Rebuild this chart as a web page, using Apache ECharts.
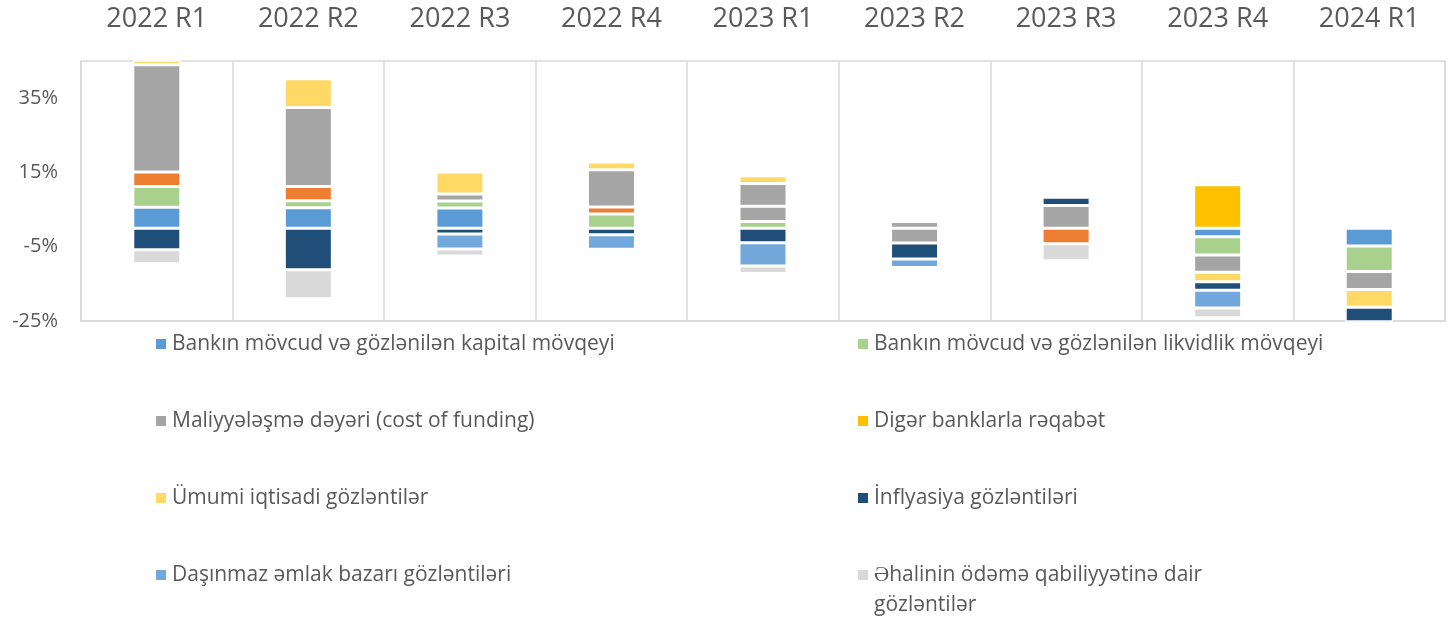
<!DOCTYPE html>
<html>
<head>
<meta charset="utf-8">
<script src="https://cdn.jsdelivr.net/npm/echarts@6/dist/echarts.min.js"></script>
<style>
    html, body {margin: 0; padding: 0; background: #fff;}
    #main {width: 1452px; height: 617px;}
</style>
</head>
<body>
<div id="main"></div>
<script>
var categories = ['2022 R1', '2022 R2', '2022 R3', '2022 R4', '2023 R1', '2023 R2', '2023 R3', '2023 R4', '2024 R1'];

// series values, %
var capital = [5.6, 5.5, 5.4, null, null, null, null, -2.3, -4.8];
var liquidity = [5.6, 1.9, 1.9, 3.8, 1.8, null, null, -4.9, -6.9];
var other = [3.9, 3.8, null, 1.9, 4.1, 1.8, -4.2, null, null];
var costOfFunding = [28.9, 21.3, 1.9, 10.0, 6.1, -4.0, 6.1, -4.7, -4.8];
var competition = [null, null, null, null, null, null, null, 11.7, null];
var economy = [1.5, 7.7, 5.9, 2.1, 2.1, null, null, -2.5, -4.8];
var inflation = [-5.8, -11.2, -1.6, -1.8, -3.9, -4.3, 2.2, -2.3, -5.5];
var realEstate = [null, null, -4.0, -3.9, -6.3, -2.3, null, -4.8, null];
var households = [-3.8, -7.8, -1.9, null, -2.0, null, -4.6, -2.6, null];

// in 2023 R1 and R2 the "other" segment is drawn grey
var otherGrey = ['2023 R1', '2023 R2'];

var yTicks = {min: -25, max: 45, interval: 20};

var names = {
    capital: 'Bankın mövcud və gözlənilən kapital mövqeyi',
    liquidity: 'Bankın mövcud və gözlənilən likvidlik mövqeyi',
    other: 'Digər',
    cost: 'Maliyyələşmə dəyəri (cost of funding)',
    competition: 'Digər banklarla rəqabət',
    economy: 'Ümumi iqtisadi gözləntilər',
    inflation: 'İnflyasiya gözləntiləri',
    realEstate: 'Daşınmaz əmlak bazarı gözləntiləri',
    households: 'Əhalinin ödəmə qabiliyyətinə dair gözləntilər'
};

var colors = {
    capital: '#5B9BD5',
    liquidity: '#A9D18E',
    other: '#ED7D31',
    cost: '#A5A5A5',
    competition: '#FFC000',
    economy: '#FFD966',
    inflation: '#1F4E79',
    realEstate: '#72A8DB',
    households: '#D9D9D9'
};

var textColor = '#595959',
    gridColor = '#D9D9D9',
    font = 'Open Sans';

function barSeries(key, values) {
    var data = values.map(function (v, i) {
        if (key === 'other' && otherGrey.indexOf(categories[i]) >= 0) {
            return {value: v, itemStyle: {color: colors.cost}};
        }
        return v;
    });
    return {
        name: names[key],
        type: 'bar',
        stack: 'total',
        barWidth: 48,
        data: data,
        itemStyle: {color: colors[key], borderColor: '#fff', borderWidth: 1.5},
        emphasis: {disabled: true}
    };
}

// one legend block per entry, two columns
function legendItem(key, col, row) {
    var left = col === 0 ? 154 : 856;
    var centerY = 344 + row * 77;
    var top = centerY - 12;
    var lineHeight = 24;
    if (key === 'households') {
        // empty first line keeps the first text line level with the icon
        lineHeight = 30;
        top = centerY - 45;
    }
    return {
        data: [names[key]],
        orient: 'vertical',
        left: left,
        top: top,
        padding: 0,
        icon: 'rect',
        itemWidth: 12,
        itemHeight: 12,
        selectedMode: false,
        textStyle: {color: textColor, fontFamily: font, fontSize: 21, lineHeight: lineHeight},
        formatter: function (name) {
            if (name === names.households) {
                return '\nƏhalinin ödəmə qabiliyyətinə dair\ngözləntilər';
            }
            return name;
        }
    };
}

function drawChart() {
    var myChart = echarts.init(document.getElementById('main'));
    var option = {
        animation: false,
        backgroundColor: '#fff',
        grid: {
            left: 81,
            right: 7,
            top: 61,
            bottom: 296,
            show: true,
            borderColor: gridColor,
            borderWidth: 1.5
        },
        legend: [
            legendItem('capital', 0, 0),
            legendItem('liquidity', 1, 0),
            legendItem('cost', 0, 1),
            legendItem('competition', 1, 1),
            legendItem('economy', 0, 2),
            legendItem('inflation', 1, 2),
            legendItem('realEstate', 0, 3),
            legendItem('households', 1, 3)
        ],
        xAxis: [{
            type: 'category',
            data: categories,
            position: 'top',
            axisLine: {show: false},
            axisTick: {show: false},
            axisLabel: {
                interval: 0,
                margin: 28,
                color: textColor,
                fontFamily: font,
                fontSize: 27,
                lineHeight: 27
            },
            splitLine: {show: true, lineStyle: {color: gridColor, width: 1.5}}
        }, {
            // zero line
            type: 'category',
            data: categories,
            position: 'bottom',
            axisLine: {show: true, onZero: true, lineStyle: {color: gridColor, width: 1.5}},
            axisTick: {show: false},
            axisLabel: {show: false},
            splitLine: {show: false}
        }],
        yAxis: {
            type: 'value',
            min: yTicks.min,
            max: yTicks.max,
            interval: yTicks.interval,
            axisLine: {show: false},
            axisTick: {show: false},
            splitLine: {show: false},
            axisLabel: {
                margin: 23,
                color: textColor,
                fontFamily: font,
                fontSize: 20,
                showMaxLabel: false,
                formatter: function (v) {
                    return v === yTicks.max ? '' : v + '%';
                }
            }
        },
        series: [
            barSeries('capital', capital),
            barSeries('liquidity', liquidity),
            barSeries('other', other),
            barSeries('cost', costOfFunding),
            barSeries('competition', competition),
            barSeries('economy', economy),
            barSeries('inflation', inflation),
            barSeries('realEstate', realEstate),
            barSeries('households', households)
        ]
    };
    myChart.setOption(option);
}

drawChart();
</script>
</body>
</html>
